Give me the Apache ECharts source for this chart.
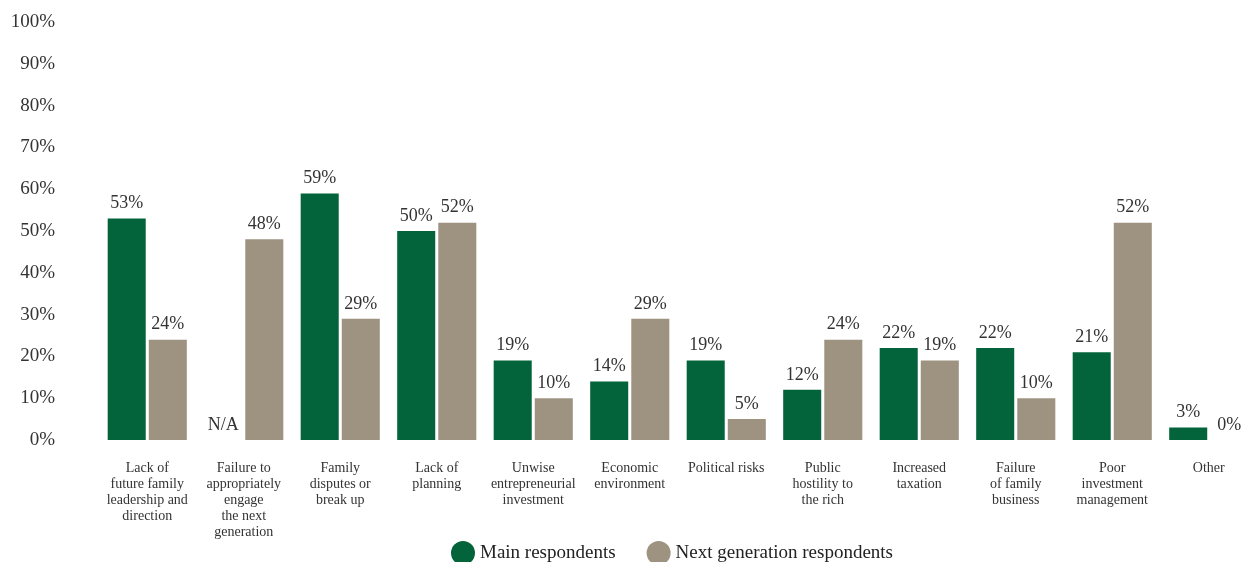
<!DOCTYPE html>
<html>
<head>
<meta charset="utf-8">
<script src="https://cdn.jsdelivr.net/npm/echarts@6/dist/echarts.min.js"></script>
<style>
  html, body { margin: 0; padding: 0; background: #fff; overflow: hidden; }
  #chart { width: 1257px; height: 562px; }
</style>
</head>
<body>
<div id="chart"></div>
<script>
// Threats to family wealth, by respondent group (percent)
const categories = [
  'Lack of\nfuture family\nleadership and\ndirection',
  'Failure to\nappropriately\nengage\nthe next\ngeneration',
  'Family\ndisputes or\nbreak up',
  'Lack of\nplanning',
  'Unwise\nentrepreneurial\ninvestment',
  'Economic\nenvironment',
  'Political risks',
  'Public\nhostility to\nthe rich',
  'Increased\ntaxation',
  'Failure\nof family\nbusiness',
  'Poor\ninvestment\nmanagement',
  'Other'
];
// null = question not asked of this group (shown as N/A)
const mainRespondents = [53, null, 59, 50, 19, 14, 19, 12, 22, 22, 21, 3];
const nextGenRespondents = [24, 48, 29, 52, 10, 29, 5, 24, 19, 10, 52, 0];
const yTicks = [0, 10, 20, 30, 40, 50, 60, 70, 80, 90, 100];

const FONT = '"Liberation Serif", "DejaVu Serif", serif';
const GREEN = '#03643b';
const TAUPE = '#9e9380';

function toData(arr) {
  return arr.map(v => v === null
    ? { value: 0, label: { formatter: 'N/A' } }
    : v);
}

const chart = echarts.init(document.getElementById('chart'), null, { renderer: 'canvas' });
chart.setOption({
  animation: false,
  textStyle: { fontFamily: FONT },
  grid: { left: 99, right: 0, top: 22, bottom: 122, containLabel: false },
  legend: {
    bottom: -8,
    left: 446,
    icon: 'circle',
    itemWidth: 24,
    itemHeight: 24,
    itemGap: 31,
    textStyle: { fontFamily: FONT, fontSize: 19, color: '#222' },
    data: ['Main respondents', 'Next generation respondents']
  },
  xAxis: {
    type: 'category',
    data: categories,
    axisLine: { show: false },
    axisTick: { show: false },
    axisLabel: {
      interval: 0,
      margin: 20,
      fontFamily: FONT,
      fontSize: 14,
      lineHeight: 16,
      color: '#333',
      align: 'center',
      verticalAlign: 'top'
    }
  },
  yAxis: {
    type: 'value',
    min: yTicks[0],
    max: yTicks[yTicks.length - 1],
    interval: 10,
    splitLine: { show: false },
    axisLine: { show: false },
    axisTick: { show: false },
    axisLabel: {
      margin: 44,
      fontFamily: FONT,
      fontSize: 19,
      color: '#333',
      formatter: v => v + '%'
    }
  },
  series: [
    {
      name: 'Main respondents',
      type: 'bar',
      data: toData(mainRespondents),
      itemStyle: { color: GREEN },
      barGap: '8%',
      barCategoryGap: '18%',
      label: {
        show: true,
        position: 'top',
        distance: 6,
        fontFamily: FONT,
        fontSize: 18,
        color: '#333',
        formatter: p => p.value + '%'
      }
    },
    {
      name: 'Next generation respondents',
      type: 'bar',
      data: toData(nextGenRespondents),
      itemStyle: { color: TAUPE },
      barGap: '8%',
      barCategoryGap: '18%',
      label: {
        show: true,
        position: 'top',
        distance: 6,
        fontFamily: FONT,
        fontSize: 18,
        color: '#333',
        formatter: p => p.value + '%'
      }
    }
  ]
});
</script>
</body>
</html>
